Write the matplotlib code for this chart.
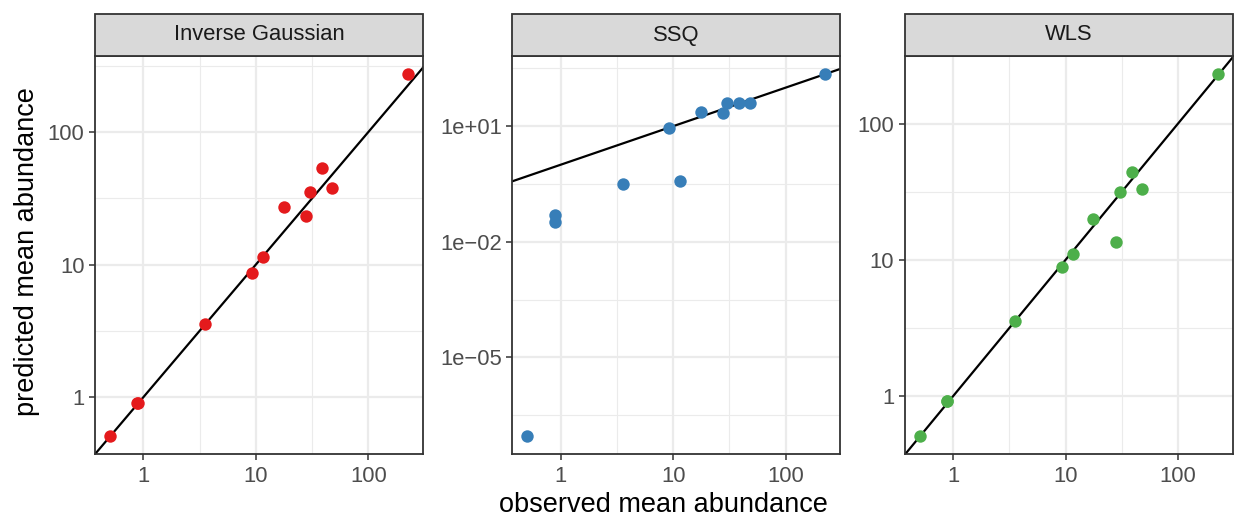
import numpy as np
import matplotlib
matplotlib.use("Agg")
import matplotlib.pyplot as plt
from matplotlib.patches import Rectangle
from matplotlib.ticker import FixedLocator, FixedFormatter

plt.rcParams['font.family'] = ['Liberation Sans', 'DejaVu Sans']

# ---- data ----
panels = ["Inverse Gaussian", "SSQ", "WLS"]
colors = ["#E41A1C", "#377EB8", "#4DAF4A"]
observed = [0.503, 0.885, 0.89, 3.56, 9.22, 11.6, 17.7, 27.9, 30.4, 38.8, 48.0, 226]
pred_ig = [0.509, 0.906, 0.906, 3.56, 8.71, 11.4, 27.4, 23.1, 35.4, 53.6, 37.7, 274]
pred_ssq = [9.1e-8, 0.0508, 0.0335, 0.316, 8.88, 0.37, 23.0, 22.5, 40.7, 40.7, 40.7, 225]
pred_wls = [0.51, 0.913, 0.913, 3.53, 8.92, 11.1, 20.0, 13.5, 31.5, 43.8, 33.3, 231]
predicted = [pred_ig, pred_ssq, pred_wls]

x_ticks = [1, 10, 100]
x_tick_labels = ["1", "10", "100"]
y_ticks = [[1, 10, 100], [1e-5, 1e-2, 1e1], [1, 10, 100]]
y_tick_labels = [["1", "10", "100"],
                 ["1e\u221205", "1e\u221202", "1e+01"],
                 ["1", "10", "100"]]
y_minor = [[10**-0.5, 10**0.5, 10**1.5, 10**2.5],
           [10**-6.5, 10**-3.5, 10**-0.5, 10**2.5],
           [10**-0.5, 10**0.5, 10**1.5, 10**2.5]]
x_minor = [10**0.5, 10**1.5]

W, H = 1236, 517
fig = plt.figure(figsize=(W / 100, H / 100), dpi=100)

panel_left = [95, 512.3, 904.7]
panel_w = 328
panel_top, panel_bot = 56, 454
strip_h = 42

def loglim(vals):
    lo, hi = np.log10(min(vals)), np.log10(max(vals))
    r = hi - lo
    return 10 ** (lo - 0.05 * r), 10 ** (hi + 0.05 * r)

xlim = loglim(observed)
border = "#333333"

for i, name in enumerate(panels):
    ax = fig.add_axes([panel_left[i] / W, (H - panel_bot) / H,
                       panel_w / W, (panel_bot - panel_top) / H])
    ax.set_xscale("log")
    ax.set_yscale("log")
    ylim = loglim(predicted[i])
    ax.set_xlim(*xlim)
    ax.set_ylim(*ylim)

    # grid
    for v in x_minor:
        ax.axvline(v, color="#EBEBEB", lw=0.8, zorder=0)
    for v in y_minor[i]:
        ax.axhline(v, color="#EBEBEB", lw=0.8, zorder=0)
    for v in x_ticks:
        ax.axvline(v, color="#EBEBEB", lw=1.6, zorder=0)
    for v in y_ticks[i]:
        ax.axhline(v, color="#EBEBEB", lw=1.6, zorder=0)

    # identity line
    lx = np.array([1e-12, 1e12])
    ax.plot(lx, lx, color="black", lw=1.6, zorder=2)

    ax.scatter(observed, predicted[i], s=80, color=colors[i], linewidths=0, zorder=3)

    ax.xaxis.set_major_locator(FixedLocator(x_ticks))
    ax.xaxis.set_major_formatter(FixedFormatter(x_tick_labels))
    ax.xaxis.set_minor_locator(FixedLocator([]))
    ax.yaxis.set_major_locator(FixedLocator(y_ticks[i]))
    ax.yaxis.set_major_formatter(FixedFormatter(y_tick_labels[i]))
    ax.yaxis.set_minor_locator(FixedLocator([]))
    ax.tick_params(axis="both", which="major", length=4, width=1.1, color=border,
                   labelsize=15.8, labelcolor="#4D4D4D")
    ax.tick_params(axis="x", pad=5.0)
    ax.tick_params(axis="y", pad=3.5)
    for sp in ax.spines.values():
        sp.set_color(border)
        sp.set_linewidth(1.3)
        sp.set_zorder(4)

    # strip
    sh = strip_h / (panel_bot - panel_top)
    rect = Rectangle((0, 1), 1, sh, transform=ax.transAxes, clip_on=False,
                     facecolor="#D9D9D9", edgecolor=border, linewidth=1.3, zorder=5)
    ax.add_patch(rect)
    ax.text(0.5, 1 + sh / 2, name, transform=ax.transAxes, ha="center", va="center",
            fontsize=15.8, color="#1A1A1A", zorder=6)

fig.text(663 / W, 1 - 505 / H, "observed mean abundance", ha="center", va="center",
         fontsize=19.5, color="black")
fig.text(27 / W, 1 - 252 / H, "predicted mean abundance", ha="center", va="center",
         rotation=90, fontsize=19.5, color="black")

fig.savefig("out.png", dpi=100)
